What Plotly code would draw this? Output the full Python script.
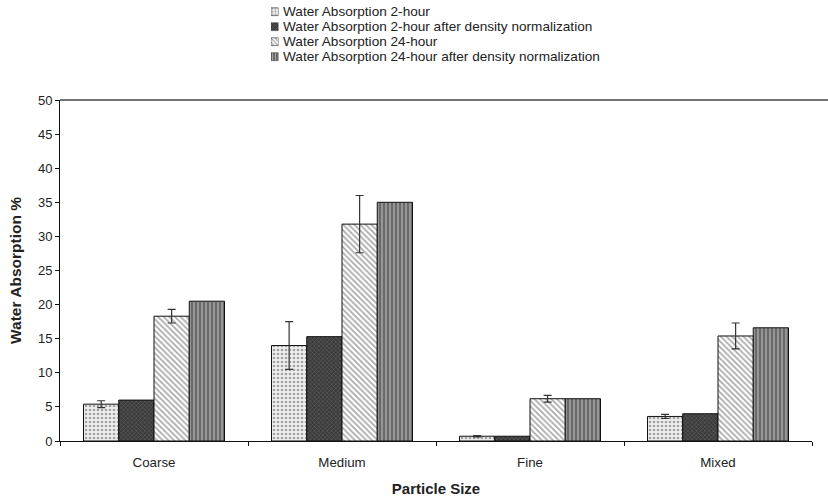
import plotly.graph_objects as go

# Particle size categories
categories = ["Coarse", "Medium", "Fine", "Mixed"]

# Water absorption (%) per series
wa_2h = [5.4, 14.0, 0.7, 3.6]
wa_2h_err = [0.5, 3.5, 0.1, 0.3]
wa_2h_norm = [6.0, 15.3, 0.7, 4.0]
wa_24h = [18.3, 31.8, 6.2, 15.4]
wa_24h_err = [1.0, 4.2, 0.5, 1.9]
wa_24h_norm = [20.5, 35.0, 6.2, 16.6]

series_names = [
    "Water Absorption 2-hour",
    "Water Absorption 2-hour after density normalization",
    "Water Absorption 24-hour",
    "Water Absorption 24-hour after density normalization",
]

y_ticks = [0, 5, 10, 15, 20, 25, 30, 35, 40, 45, 50]

FONT = "Liberation Sans, Arial, sans-serif"
W, H = 828, 498
M_L, M_R, M_T, M_B = 60, 16, 0, 57
PLOT_H = H - M_T - M_B           # 441 px of paper height
PLOT_W = W - M_L - M_R           # 752 px of paper width
Y_TOP = 341 / PLOT_H             # top of the value axis in paper units


def px_x(p):
    return (p - M_L) / PLOT_W


def px_y(p):
    return (H - M_B - p) / PLOT_H


styles = [
    dict(color="#eeeeee", pattern=dict(shape=".", bgcolor="#eeeeee", fgcolor="#555555", size=4, solidity=0.35)),
    dict(color="#333333", pattern=dict(shape="x", bgcolor="#3a3a3a", fgcolor="#9a9a9a", size=3, solidity=0.3)),
    dict(color="#ffffff", pattern=dict(shape="\\", bgcolor="#ffffff", fgcolor="#555555", size=4, solidity=0.45)),
    dict(color="#777777", pattern=dict(shape="|", bgcolor="#6a6a6a", fgcolor="#e6e6e6", size=4, solidity=0.35)),
]
values = [wa_2h, wa_2h_norm, wa_24h, wa_24h_norm]
errors = [wa_2h_err, None, wa_24h_err, None]

fig = go.Figure()

for name, vals, err, st in zip(series_names, values, errors, styles):
    kw = {}
    if err is not None:
        kw["error_y"] = dict(type="data", array=err, thickness=1.2, width=4, color="#333333")
    fig.add_trace(go.Bar(
        name=name, x=categories, y=vals, showlegend=False,
        marker=dict(color=st["color"], line=dict(color="#111111", width=1), pattern=st["pattern"]),
        **kw,
    ))

# Legend: patterned swatches on a small helper axis, labels as text
row_px = [11.7, 26.7, 41.7, 56.7]
swatch_rows = [3, 2, 1, 0]
for row, st in zip(swatch_rows, styles):
    pat = dict(st["pattern"])
    pat["size"] = 3
    fig.add_trace(go.Bar(
        x=[1], y=[row], orientation="h", width=0.52, xaxis="x2", yaxis="y2",
        showlegend=False, hoverinfo="skip",
        marker=dict(color=st["color"], line=dict(color="#444444", width=0.7), pattern=pat),
    ))

annotations = []
for name, p in zip(series_names, row_px):
    annotations.append(dict(
        text=name, xref="paper", yref="paper", x=px_x(280.5), y=px_y(p),
        xanchor="left", yanchor="middle", showarrow=False,
        font=dict(family=FONT, size=13.6, color="#222222"),
    ))

fig.update_layout(
    width=W, height=H,
    margin=dict(l=M_L, r=M_R, t=M_T, b=M_B, autoexpand=False),
    paper_bgcolor="white", plot_bgcolor="white",
    font=dict(family=FONT, size=13, color="#222222"),
    barmode="group", bargap=0.25, bargroupgap=0,
    showlegend=False,
    annotations=annotations,
    xaxis=dict(
        type="category", showline=True, linecolor="#111111", linewidth=1,
        ticks="outside", tickson="boundaries", ticklen=4, tickcolor="#111111",
        showgrid=False, zeroline=False, ticklabelstandoff=9,
        tickfont=dict(size=13.3),
        title=dict(text="<b>Particle Size</b>", font=dict(size=15), standoff=14),
    ),
    yaxis=dict(
        domain=[0, Y_TOP],
        range=[0, 50], tickvals=y_ticks, showline=True, linecolor="#111111",
        linewidth=1, ticks="outside", ticklen=4, tickcolor="#111111",
        showgrid=False, zeroline=False, tickfont=dict(size=13),
        title=dict(text="<b>Water Absorption %</b>", font=dict(size=15.5), standoff=12),
    ),
    xaxis2=dict(domain=[px_x(271), px_x(278.5)], range=[0, 1], visible=False,
                anchor="y2", fixedrange=True),
    yaxis2=dict(domain=[px_y(row_px[-1] + 7.5), px_y(row_px[0] - 7.5)],
                range=[-0.5, 3.5], visible=False, anchor="x2", fixedrange=True),
    shapes=[dict(type="line", xref="paper", yref="y domain", x0=0, x1=1.03,
                 y0=1, y1=1, line=dict(color="#444444", width=1.5))],
)

fig.write_html("out.html")
